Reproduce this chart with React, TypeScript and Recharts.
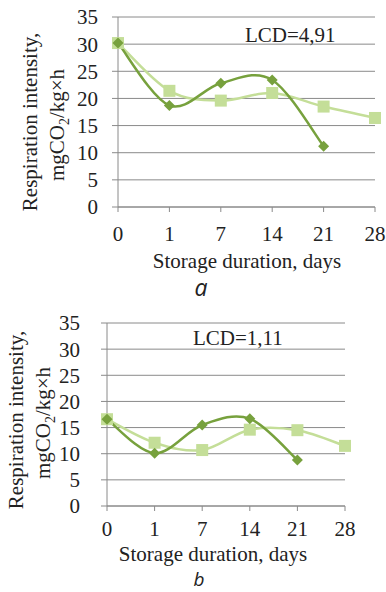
import { LineChart, Line, XAxis, YAxis, CartesianGrid } from 'recharts';

// storage days (category axis)
const days = ['0', '1', '7', '14', '21', '28'];
const yTicks = [0, 5, 10, 15, 20, 25, 30, 35];

// panel a
const darkA = [30.2, 18.7, 22.8, 23.4, 11.2, null];
const lightA = [30.2, 21.4, 19.6, 21.0, 18.5, 16.4];
// panel b
const darkB = [16.6, 10.1, 15.5, 16.7, 8.8, null];
const lightB = [16.6, 12.1, 10.7, 14.6, 14.5, 11.5];

const DARK = '#77a13d';
const LIGHT = '#c4de98';
const GRID = '#8a8a8a';
const FONT = '"Liberation Serif", "Times New Roman", serif';

// Excel-style smoothed line (Catmull-Rom through the points)
const smoothCurve = (ctx: any) => {
  let pts: number[][] = [];
  return {
    areaStart() {},
    areaEnd() {},
    lineStart() { pts = []; },
    lineEnd() {
      if (!pts.length) return;
      ctx.moveTo(pts[0][0], pts[0][1]);
      for (let i = 0; i < pts.length - 1; i++) {
        const p0 = pts[i - 1] || pts[i];
        const p1 = pts[i];
        const p2 = pts[i + 1];
        const p3 = pts[i + 2] || p2;
        ctx.bezierCurveTo(
          p1[0] + (p2[0] - p0[0]) / 6, p1[1] + (p2[1] - p0[1]) / 6,
          p2[0] - (p3[0] - p1[0]) / 6, p2[1] - (p3[1] - p1[1]) / 6,
          p2[0], p2[1]
        );
      }
    },
    point(x: number, y: number) { pts.push([+x, +y]); },
  };
};

const Square = (props: any) => {
  const { cx, cy, index } = props;
  if (cx == null || cy == null || props.value == null) return <g key={index} />;
  return <rect key={index} x={cx - 6} y={cy - 6} width={12} height={12} fill={LIGHT} />;
};

const Diamond = (props: any) => {
  const { cx, cy, index } = props;
  if (cx == null || cy == null || props.value == null) return <g key={index} />;
  const r = 5.5;
  return <path key={index} d={`M${cx},${cy - r}L${cx + r},${cy}L${cx},${cy + r}L${cx - r},${cy}Z`} fill={DARK} />;
};

const YTitle = ({ x1, y1, x2, y2 }: any) => (
  <g fontFamily={FONT} fontSize={21} fill="#222">
    <text transform={`translate(${x1},${y1}) rotate(-90)`} textAnchor="middle">Respiration intensity,</text>
    <text transform={`translate(${x2},${y2}) rotate(-90)`} textAnchor="middle">
      mgCO<tspan fontSize={14} dy={5}>2</tspan><tspan dy={-5}>/kg×h</tspan>
    </text>
  </g>
);

interface PanelProps {
  dark: (number | null)[];
  light: number[];
  top: number;
  height: number;
  plotLeft: number;
  plotRight: number;
  plotTop: number;
  plotBottom: number;
  yTickMargin: number;
  xTickMargin: number;
  yTitle: number[];
  xTitle: number[];
  lcd: string;
  lcdPos: number[];
}

const Panel = (p: PanelProps) => {
  const data = days.map((d, i) => ({ day: d, dark: p.dark[i], light: p.light[i] }));
  const xAxisH = 30;
  return (
    <div style={{ position: 'absolute', left: 0, top: p.top, width: 386, height: p.height }}>
      <LineChart
        width={386}
        height={p.height}
        data={data}
        margin={{ top: p.plotTop, left: 0, right: 386 - p.plotRight, bottom: p.height - p.plotBottom - xAxisH }}
      >
        <CartesianGrid vertical={false} stroke={GRID} />
        <XAxis
          dataKey="day"
          height={xAxisH}
          stroke={GRID}
          tickSize={5}
          tickMargin={p.xTickMargin}
          interval={0}
          tick={{ fill: '#222', fontSize: 21, fontFamily: FONT }}
        />
        <YAxis
          width={p.plotLeft}
          domain={[0, 35]}
          ticks={yTicks}
          interval={0}
          stroke={GRID}
          tickSize={6}
          tickMargin={p.yTickMargin}
          tick={{ fill: '#222', fontSize: 21, fontFamily: FONT }}
        />
        <Line
          dataKey="light"
          type={smoothCurve as any}
          stroke={LIGHT}
          strokeWidth={2.5}
          dot={<Square />}
          isAnimationActive={false}
        />
        <Line
          dataKey="dark"
          type={smoothCurve as any}
          stroke={DARK}
          strokeWidth={2.5}
          dot={<Diamond />}
          isAnimationActive={false}
        />
      </LineChart>
      <svg width={386} height={p.height} style={{ position: 'absolute', left: 0, top: 0, pointerEvents: 'none' }}>
        <YTitle x1={p.yTitle[0]} y1={p.yTitle[1]} x2={p.yTitle[2]} y2={p.yTitle[3]} />
        <text x={p.xTitle[0]} y={p.xTitle[1]} textAnchor="middle" fontFamily={FONT} fontSize={21} fill="#222">
          Storage duration, days
        </text>
        <text x={p.lcdPos[0]} y={p.lcdPos[1]} fontFamily={FONT} fontSize={21} fill="#222">{p.lcd}</text>
      </svg>
    </div>
  );
};

const LETTER_FONT = '"Open Sans", "Noto Sans", sans-serif';

export default function App() {
  return (
    <div style={{ position: 'absolute', left: 0, top: 0, width: 386, height: 592, background: '#fff' }}>
      <Panel
        dark={darkA}
        light={lightA}
        top={0}
        height={300}
        plotLeft={118}
        plotRight={375}
        plotTop={17}
        plotBottom={207}
        yTickMargin={14}
        xTickMargin={14}
        yTitle={[37, 122, 64, 125]}
        xTitle={[247, 268]}
        lcd="LCD=4,91"
        lcdPos={[245, 42]}
      />
      <Panel
        dark={darkB}
        light={lightB}
        top={300}
        height={292}
        plotLeft={107}
        plotRight={345}
        plotTop={23}
        plotBottom={206}
        yTickMargin={21}
        xTickMargin={10}
        yTitle={[23, 120, 50, 123]}
        xTitle={[213, 261]}
        lcd="LCD=1,11"
        lcdPos={[193, 45]}
      />
      <svg width={386} height={592} style={{ position: 'absolute', left: 0, top: 0, pointerEvents: 'none' }}>
        <text x={201} y={296} textAnchor="middle" fontFamily={LETTER_FONT} fontStyle="italic" fontSize={23} fill="#222">a</text>
        <text x={199} y={586} textAnchor="middle" fontFamily={LETTER_FONT} fontStyle="italic" fontSize={19} fill="#222">b</text>
      </svg>
    </div>
  );
}
